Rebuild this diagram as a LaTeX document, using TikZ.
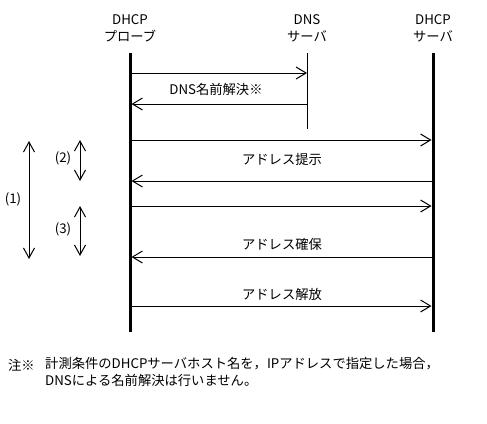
\documentclass[tikz,border=0pt]{standalone}
\usepackage{fontspec}
\setmainfont{Noto Sans CJK JP}
\usetikzlibrary{arrows.meta}
\begin{document}
\begin{tikzpicture}[x=1pt,y=-1pt,
  txt/.style={inner sep=0pt,font=\fontsize{13.3}{17}\selectfont},
  thick line/.style={line width=3pt},
  thin line/.style={line width=1pt},
  msg/.style={line width=1pt,-{Straight Barb[length=10pt,width=12pt,line width=1pt]}},
  span/.style={line width=1pt,{Straight Barb[length=10pt,width=11pt,line width=1pt]}-{Straight Barb[length=10pt,width=11pt,line width=1pt]}}]
\useasboundingbox (0,0) rectangle (487,423);
% headers
\node[txt,align=center] (hp) at (130,28) {DHCP\\プローブ};
\node[txt,align=center] (hd) at (307,28) {DNS\\サーバ};
\node[txt,align=center] (hs) at (433,28) {DHCP\\サーバ};
% lifelines
\coordinate (pt) at (130,53); \coordinate (pb) at (130,332);
\coordinate (dt) at (307,53); \coordinate (db) at (307,129);
\coordinate (st) at (433,53); \coordinate (sb) at (433,332);
\draw[thick line] (pt) -- (pb);
\draw[thick line] (st) -- (sb);
\draw[thin line] (dt) -- (db);
% messages
\coordinate (p1) at (131.5,73);  \coordinate (d1) at (307,73);
\coordinate (d2) at (307,104);   \coordinate (p2) at (131.5,104);
\coordinate (p3) at (131.5,140); \coordinate (s3) at (431.5,140);
\coordinate (s4) at (431.5,181); \coordinate (p4) at (131.5,181);
\coordinate (p5) at (131.5,206); \coordinate (s5) at (431.5,206);
\coordinate (s6) at (431.5,257); \coordinate (p6) at (131.5,257);
\coordinate (p7) at (131.5,306); \coordinate (s7) at (431.5,306);
\draw[msg] (p1) -- (d1);
\draw[msg] (d2) -- (p2);
\draw[msg] (p3) -- (s3);
\draw[msg] (s4) -- (p4);
\draw[msg] (p5) -- (s5);
\draw[msg] (s6) -- (p6);
\draw[msg] (p7) -- (s7);
\node[txt] (l1) at (216,89) {DNS名前解決※};
\node[txt] (l2) at (282,159) {アドレス提示};
\node[txt] (l3) at (282,244) {アドレス確保};
\node[txt] (l4) at (282,294) {アドレス解放};
% spans
\coordinate (a1) at (29,141); \coordinate (b1) at (29,259);
\coordinate (a2) at (80,140); \coordinate (b2) at (80,181);
\coordinate (a3) at (80,206); \coordinate (b3) at (80,256);
\draw[span] (a1) -- (b1);
\draw[span] (a2) -- (b2);
\draw[span] (a3) -- (b3);
\node[txt] (n1) at (13,199) {(1)};
\node[txt] (n2) at (63,158) {(2)};
\node[txt] (n3) at (63,229) {(3)};
% note
\node[txt,anchor=west] (nm) at (8,365) {注※};
\node[txt,anchor=north west,align=left] (nt) at (45,357) {計測条件のDHCPサーバホスト名を，IPアドレスで指定した場合，\\DNSによる名前解決は行いません。};
\end{tikzpicture}
\end{document}
